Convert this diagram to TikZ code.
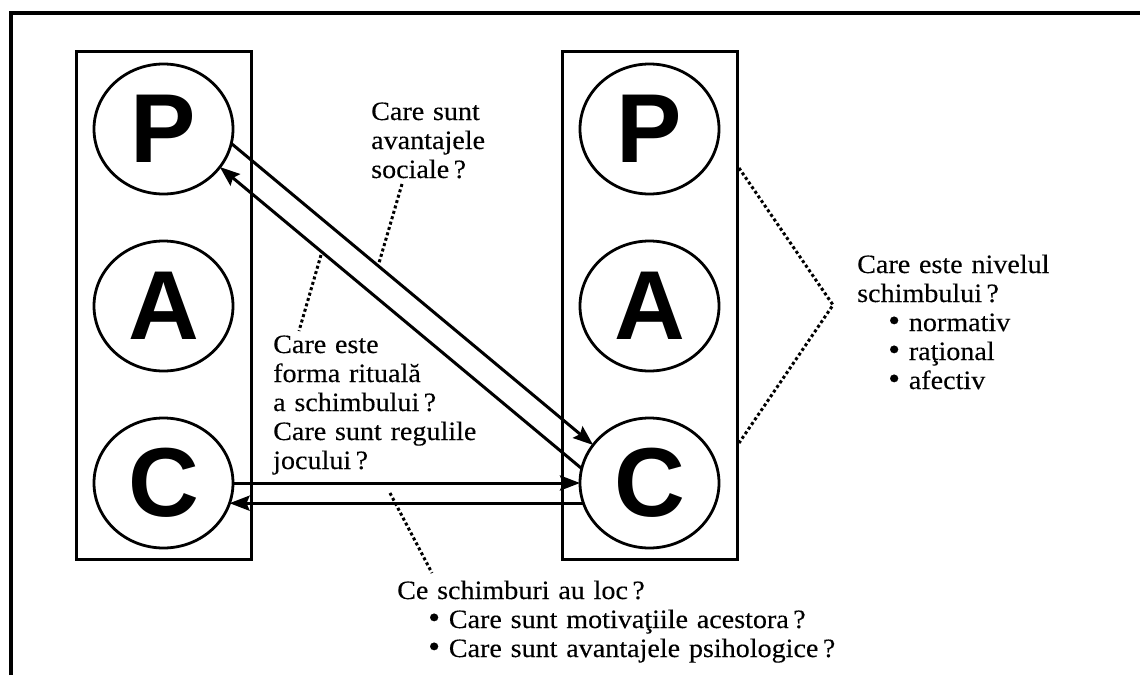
\documentclass[tikz,border=0pt]{standalone}
\usepackage{fontspec}
\usetikzlibrary{shapes.geometric,arrows.meta}
\newfontfamily\labelfont[FakeStretch=1.06,WordSpace=1.25,FakeBold=0.25]{Liberation Serif}
\newfontfamily\egofont{Liberation Sans}
\newcommand{\itemdot}{\hspace*{31pt}{\fontsize{32}{29}\selectfont•}\ }
\begin{document}
\begin{tikzpicture}[x=1pt,y=-1pt,
  frame/.style={line width=3.5pt, line join=miter},
  egobox/.style={draw, line width=3pt, minimum width=175pt, minimum height=508pt, inner sep=0pt, outer sep=0pt},
  ego/.style={ellipse, draw, line width=2.8pt, minimum width=139pt, minimum height=130pt,
    inner sep=0pt, outer sep=0pt, font=\egofont\bfseries\fontsize{98}{98}\selectfont},
  msg/.style={line width=3pt, -{Stealth[length=20pt,width=15pt,inset=3pt]}},
  note/.style={line width=3pt, dash pattern=on 3pt off 2.6pt},
  txt/.style={anchor=base west, inner sep=0pt, align=left,
    font=\labelfont\fontsize{26.5}{29}\selectfont},
]
\useasboundingbox (0,0) rectangle (1140,675);

% outer frame (top and left edges)
\draw[frame] (11,675) -- (11,13) -- (1140,13);

% the two ego-state columns
\node[egobox] (lbox) at (164,305) {};
\node[egobox] (rbox) at (649.5,305) {};

\node[ego] (lP) at (163.5,129) {P};
\node[ego] (lA) at (163.5,306) {A};
\node[ego] (lC) at (163.5,483) {C};
\node[ego] (rP) at (649.5,129) {P};
\node[ego] (rA) at (649.5,306) {A};
\node[ego] (rC) at (649.5,483) {C};

% transactions
\draw[msg] (lP.-12) -- (rC.146);
\draw[msg] (rC.168) -- (lP.-34.5);
\draw[msg] (lC.east) -- (rC.west);
\draw[msg] (rC.197) -- (lC.-17);

% questions (each node is placed by the baseline of its last line)
\node[txt] (social) at (371,178) {Care sunt\\avantajele\\sociale\,?};
\node[txt] (ritual) at (273,469) {Care este\\forma rituală\\a schimbului\,?\\Care sunt regulile\\jocului\,?};
\node[txt] (level) at (857,389) {Care este nivelul\\schimbului\,?\\\itemdot normativ\\\itemdot raţional\\\itemdot afectiv};
\node[txt] (exch) at (397,657) {Ce schimburi au loc\,?\\\itemdot Care sunt motivaţiile acestora\,?\\\itemdot Care sunt avantajele psihologice\,?};

% dotted pointers
\coordinate (s1) at (402,184);
\coordinate (s2) at (379,263);
\coordinate (r1) at (321,255);
\coordinate (r2) at (299,331);
\coordinate (e1) at (390,493);
\coordinate (e2) at (432,573);
\coordinate (l1) at (739,168);
\coordinate (l2) at (833,305);
\coordinate (l3) at (739,443);
\draw[note] (s1) -- (s2);
\draw[note] (r1) -- (r2);
\draw[note] (e1) -- (e2);
\draw[note] (l1) -- (l2) -- (l3);
\end{tikzpicture}
\end{document}
